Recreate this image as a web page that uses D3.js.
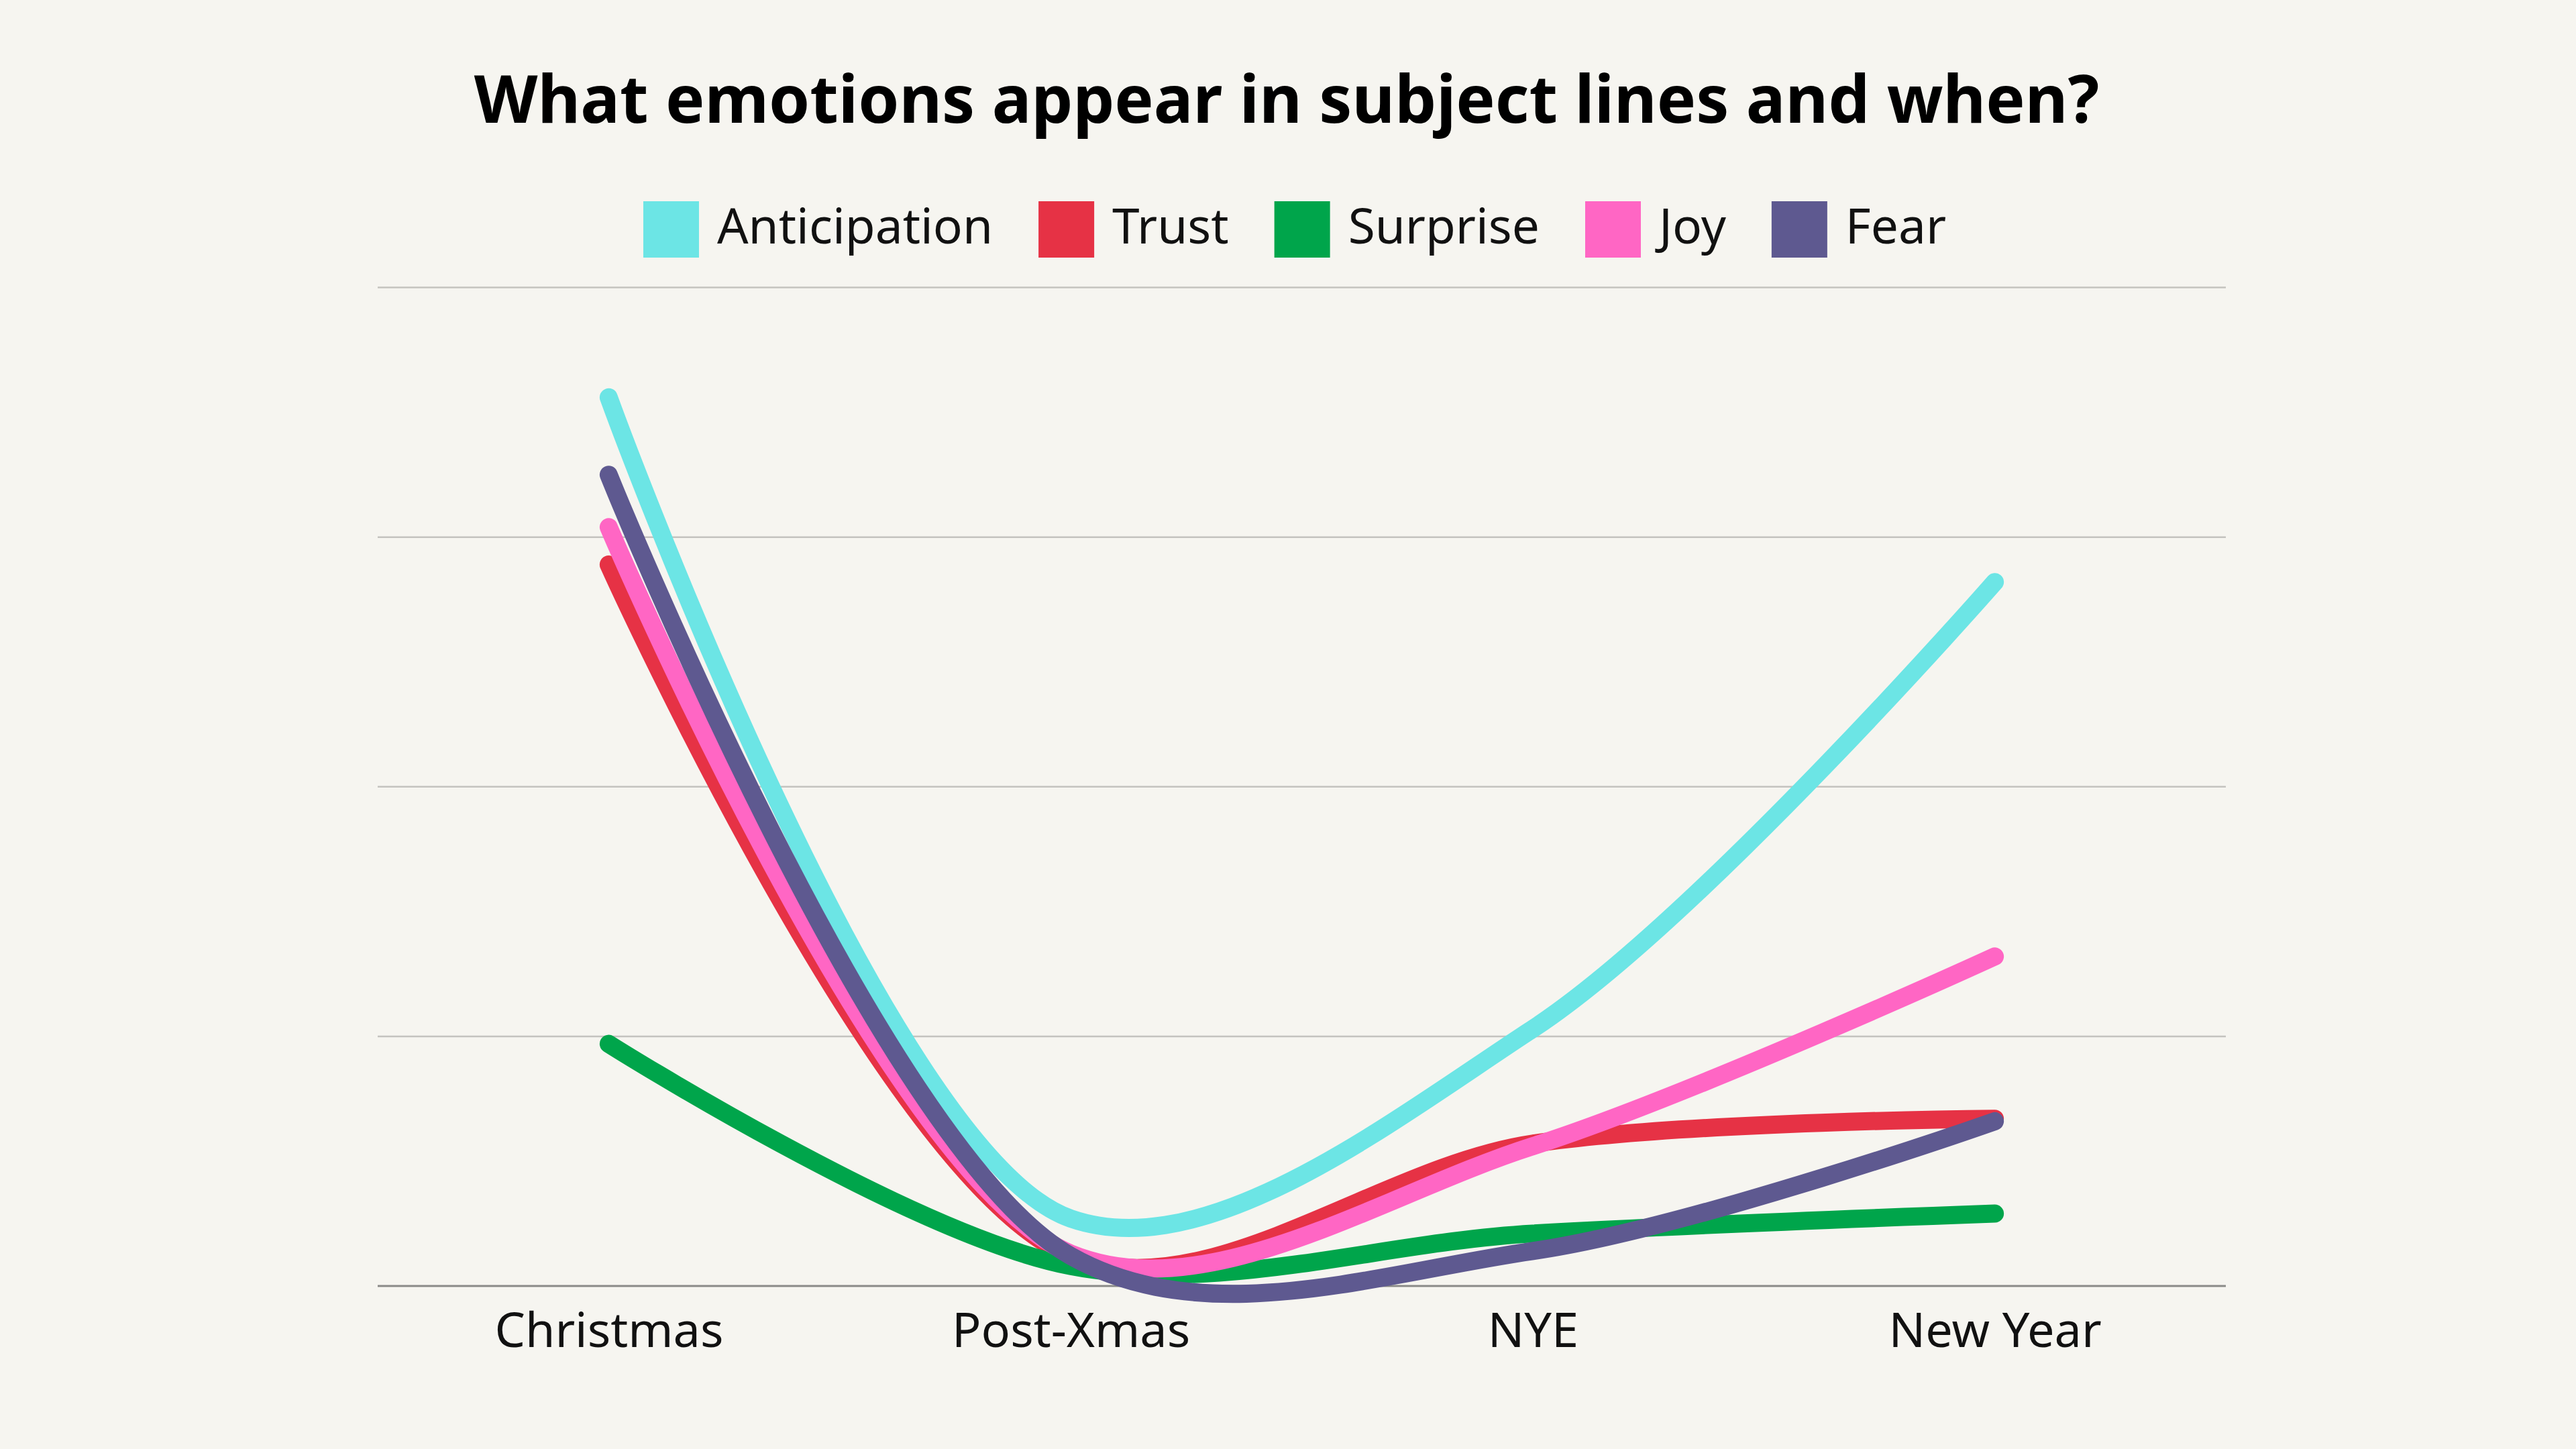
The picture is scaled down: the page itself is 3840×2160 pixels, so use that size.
<!DOCTYPE html>
<html>
<head>
<meta charset="utf-8">
<script src="https://cdn.jsdelivr.net/npm/d3@7"></script>
<style>
  html, body { margin: 0; padding: 0; background: #f6f5f0; }
  svg { display: block; }
</style>
</head>
<body>
<script>
const categories = ["Christmas", "Post-Xmas", "NYE", "New Year"];
const seriesNames = ["Anticipation", "Trust", "Surprise", "Joy", "Fear"];
const anticipation = [3.56, 0.27, 1.03, 2.82];
const trust        = [2.89, 0.12, 0.57, 0.67];
const surprise     = [0.97, 0.08, 0.21, 0.29];
const joy          = [3.04, 0.13, 0.56, 1.32];
const fear         = [3.25, 0.12, 0.14, 0.66];
const yTicks = [0, 1, 2, 3, 4];
const colors = {
  Anticipation: "#6ce5e5",
  Trust: "#e63245",
  Surprise: "#00a54b",
  Joy: "#ff66c4",
  Fear: "#5e5990"
};
const seriesValues = {
  Anticipation: anticipation, Trust: trust, Surprise: surprise, Joy: joy, Fear: fear
};
const drawOrder = ["Trust", "Surprise", "Joy", "Anticipation", "Fear"];

const W = 3840, H = 2160;
const margin = { left: 563, right: W - 3318, top: 428.6, bottom: H - 1917 };

const svg = d3.select("body").append("svg").attr("width", W).attr("height", H);
svg.append("rect").attr("width", W).attr("height", H).attr("fill", "#f6f5f0");

const x = d3.scalePoint().domain(categories).range([margin.left, W - margin.right]).padding(0.5);
const y = d3.scaleLinear().domain([0, 4]).range([H - margin.bottom, margin.top]);

// Title
svg.append("text")
  .attr("x", 1918).attr("y", 183)
  .attr("text-anchor", "middle")
  .attr("font-family", "'Noto Sans', sans-serif")
  .attr("font-weight", 700)
  .attr("font-size", 98)
  .attr("fill", "#000")
  .text("What emotions appear in subject lines and when?");

// Legend
const legend = svg.append("g");
let lx = 0;
seriesNames.forEach(name => {
  const g = legend.append("g");
  g.append("rect").attr("x", 0).attr("y", 300).attr("width", 83).attr("height", 84).attr("fill", colors[name]);
  const t = g.append("text").attr("x", 110).attr("y", 363)
    .attr("font-family", "'Noto Sans', sans-serif")
    .attr("font-size", 73).attr("fill", "#111").text(name);
  const w = t.node().getComputedTextLength();
  g.attr("transform", `translate(${lx},0)`);
  lx += 110 + w + 68;
});
const legendW = lx - 68;
legend.attr("transform", `translate(${1930 - legendW / 2},0)`);

// Gridlines
const grid = svg.append("g");
grid.selectAll("line").data(yTicks).join("line")
  .attr("x1", margin.left).attr("x2", W - margin.right)
  .attr("y1", d => y(d)).attr("y2", d => y(d))
  .attr("stroke", d => d === 0 ? "#8a8a88" : "#c4c3bf")
  .attr("stroke-width", d => d === 0 ? 3 : 2.5);

// X axis
const xAxis = svg.append("g").attr("transform", `translate(0,${H - margin.bottom})`)
  .call(d3.axisBottom(x).tickSize(0).tickPadding(40));
xAxis.select(".domain").remove();
xAxis.selectAll("text")
  .attr("font-family", "'Noto Sans', sans-serif")
  .attr("font-size", 72).attr("fill", "#111");

// Lines
const line = d3.line()
  .x((d, i) => x(categories[i]))
  .y(d => y(d))
  .curve(d3.curveCatmullRom.alpha(0.5));

svg.append("g").selectAll("path").data(drawOrder).join("path")
  .attr("d", name => line(seriesValues[name]))
  .attr("fill", "none")
  .attr("stroke", name => colors[name])
  .attr("stroke-width", 27)
  .attr("stroke-linecap", "round")
  .attr("stroke-linejoin", "round");
</script>
</body>
</html>
